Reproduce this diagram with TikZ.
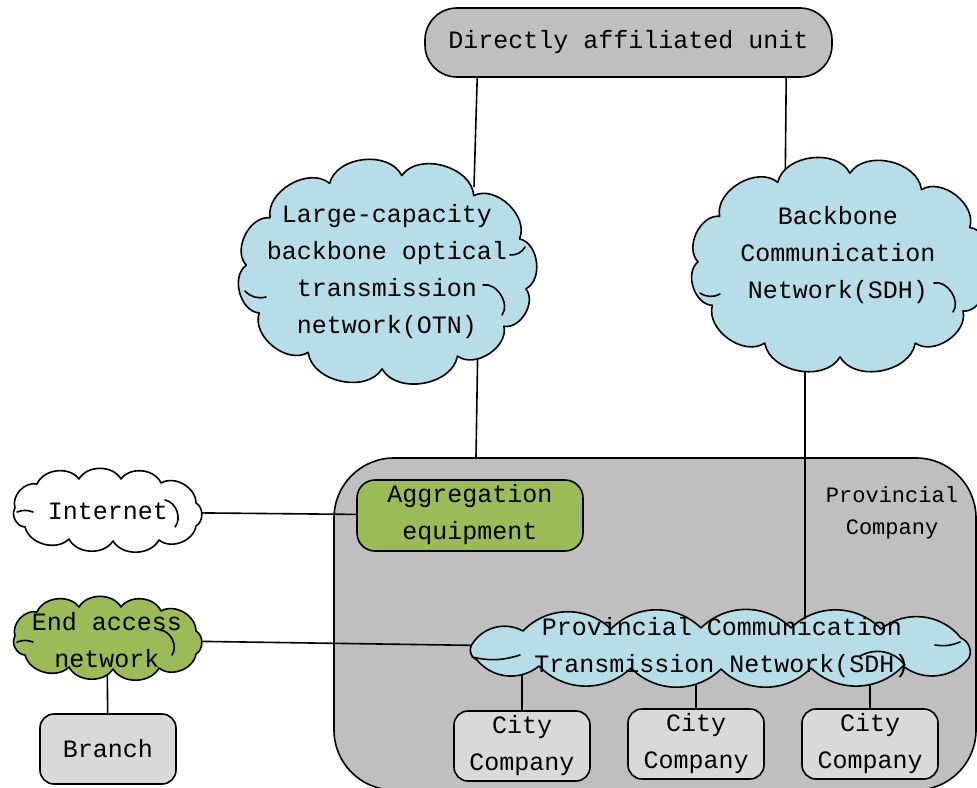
\documentclass[tikz,border=0pt]{standalone}
\usepackage{fontspec}
\setmainfont{Liberation Mono}
\usetikzlibrary{calc,shapes.geometric}
\pgfdeclarelayer{back}
\pgfdeclarelayer{wires}
\pgfsetlayers{back,wires,main}
\definecolor{boxgray}{HTML}{BFBFBF}
\definecolor{lightbox}{HTML}{D9D9D9}
\definecolor{netblue}{HTML}{B7DDE8}
\definecolor{netgreen}{HTML}{9BBB59}
\tikzset{
  roundbox/.style={draw=black, line width=1.6pt, rectangle, inner sep=0pt},
  anchorbox/.style={ellipse, inner sep=0pt},
  puff/.style={draw=black, line width=1.6pt, line join=round, line cap=round},
  label text/.style={align=center, font=\fontsize{25}{37}\selectfont, inner sep=0pt},
  small text/.style={align=center, font=\fontsize{22}{32}\selectfont, inner sep=0pt},
  wire/.style={draw=black, line width=1.6pt},
}
% round cloud: centre node, x radius, y radius, start angle, further angles (ending at the start), bend, fill
\newcommand\roundcloud[7]{%
  \path[puff, fill=#7] ([shift={(#1.center)}]#4:#2pt and #3pt)
    \foreach \a in {#5} { to[bend right=#6] ([shift={(#1.center)}]\a:#2pt and #3pt) } -- cycle;}
% free cloud: centre node, start offset dx,dy, further offsets dx/dy (clockwise on screen, ending at the start), bend, fill
\newcommand\freecloud[5]{%
  \path[puff, fill=#5] ([shift={(#1.center)}]#2)
    \foreach \dx/\dy in {#3} { to[bend left=#4] ([shift={(#1.center)}]\dx,\dy) } -- cycle;}
% inner fold line of a cloud: centre node, from offset, to offset, bend
\newcommand\cloudfold[4]{%
  \draw[puff] ([shift={(#1.center)}]#2) to[bend left=#4] ([shift={(#1.center)}]#3);}
\begin{document}
\begin{tikzpicture}[x=1pt,y=-1pt,line width=1.6pt]
\useasboundingbox (0,0) rectangle (977,787);

% provincial company area
\begin{pgfonlayer}{back}
\node[roundbox, fill=boxgray, rounded corners=60pt, minimum width=642pt, minimum height=332pt] (prov) at (655,624) {};
\end{pgfonlayer}
\node[small text] (provtxt) at (892,513) {Provincial\\Company};

% headquarters unit
\node[roundbox, fill=boxgray, rounded corners=32pt, minimum width=407pt, minimum height=69pt] (top) at (628.5,42.5) {};
\node[label text] (toptxt) at (628.5,42) {Directly affiliated unit};

% backbone networks
\node[anchorbox, minimum width=302pt, minimum height=227pt] (otn) at (387,272) {};
\roundcloud{otn}{141}{97}{350}{20,52,84,114,146,176,205,236,268,300,326,350}{70}{netblue}
\cloudfold{otn}{-142,19}{-121,25}{-30}
\cloudfold{otn}{123,-17}{138,-25}{-30}
\cloudfold{otn}{96,13}{115,43}{70}
\node[label text] (otntxt) at (387,272) {Large-capacity\\backbone optical\\transmission\\network(OTN)};

\node[anchorbox, minimum width=300pt, minimum height=214pt] (sdh) at (840,265) {};
\roundcloud{sdh}{142}{92}{355}{24,55,86,116,148,178,206,238,270,302,330,355}{70}{netblue}
\cloudfold{sdh}{-140,28}{-120,29}{-30}
\cloudfold{sdh}{94,18}{113,47}{70}
\node[label text] (sdhtxt) at (838,255) {Backbone\\Communication\\Network(SDH)};

% external networks
\node[anchorbox, minimum width=195pt, minimum height=80pt] (inet) at (107,512) {};
\freecloud{inet}{-92,-4}{-70/-28,-28/-33,14/-33,54/-29,89/-9,89/14,52/28,6/29,-38/27,-82/15,-92/-4}{60}{white}
\cloudfold{inet}{-90,0}{-74,0}{20}
\cloudfold{inet}{58,-12}{68,15}{60}
\node[label text] (inettxt) at (108,511) {Internet};

\node[anchorbox, minimum width=195pt, minimum height=80pt] (endacc) at (107,640) {};
\freecloud{endacc}{-92,-4}{-70/-28,-28/-33,14/-33,54/-29,89/-9,89/14,52/28,6/29,-38/27,-82/15,-92/-4}{60}{netgreen}
\cloudfold{endacc}{-90,2}{-74,2}{20}
\cloudfold{endacc}{53,-10}{65,15}{60}
\node[label text] (endacctxt) at (107,640) {End access\\network};

\node[roundbox, fill=lightbox, rounded corners=14pt, minimum width=136pt, minimum height=70pt] (branch) at (108,749) {};
\node[label text] (branchtxt) at (108,749) {Branch};

% provincial equipment
\node[roundbox, fill=netgreen, rounded corners=18pt, minimum width=226pt, minimum height=71pt] (agg) at (470,515.5) {};
\node[label text] (aggtxt) at (470,515) {Aggregation\\equipment};

\node[anchorbox, minimum width=507pt, minimum height=70pt] (pctn) at (721,649) {};
\freecloud{pctn}{-250,-3}{-198/-18,-110/-20,-20/-21,70/-21,160/-20,240/-11,248/9,182/17,90/19,0/20,-90/19,-182/17,-244/11,-250/-3}{45}{netblue}
\cloudfold{pctn}{-249,8}{-201,6}{-15}
\cloudfold{pctn}{239,-7}{214,-4}{15}
\cloudfold{pctn}{139,7}{184,16}{40}
\node[label text] (pctntxt) at (722,648) {Provincial Communication\\Transmission Network(SDH)};

\foreach \n/\cx/\cy in {city1/522/746, city2/696/744, city3/870/744}{
  \node[roundbox, fill=lightbox, rounded corners=14pt, minimum width=136pt, minimum height=70pt] (\n) at (\cx,\cy) {};
  \node[label text] (\n txt) at (\cx,\cy) {City\\Company};
}

% connections
\begin{pgfonlayer}{wires}
\draw[wire] ($(top.south west)+(53,0)$) -- ($(otn.center)+(87,-85)$);
\draw[wire] ($(top.south west)+(362,0)$) -- ($(sdh.center)+(-55,-60)$);
\draw[wire] ($(otn.center)+(91,60)$) -- (prov.north -| 476,0);
\draw[wire] ($(sdh.center)+(-35,60)$) -- ($(pctn.center)+(84,0)$);
\draw[wire] (inet.center) -- (agg.center);
\draw[wire] (endacc.center) -- (pctn.center);
\draw[wire] (endacc.center) -- (branch);
\draw[wire] (pctn.center -| city1) -- (city1);
\draw[wire] (pctn.center -| city2) -- (city2);
\draw[wire] (pctn.center -| city3) -- (city3);
\end{pgfonlayer}
\end{tikzpicture}
\end{document}
